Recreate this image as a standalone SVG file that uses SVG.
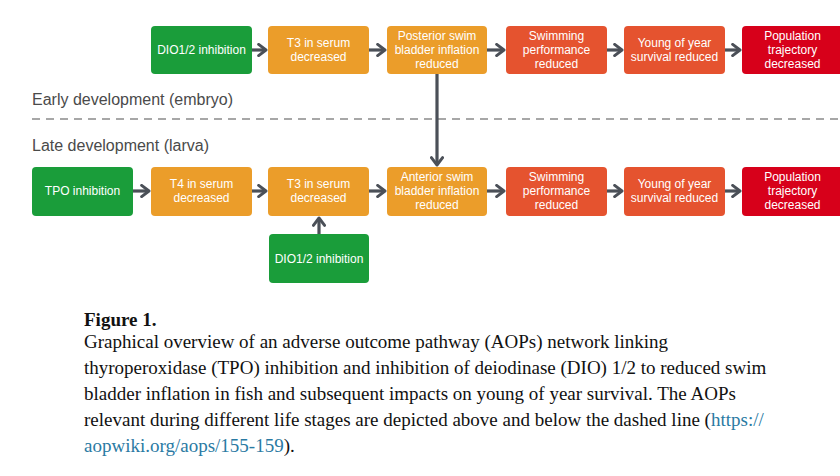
<svg xmlns="http://www.w3.org/2000/svg" width="840" height="476" viewBox="0 0 840 476">
<style>
.box{stroke:none}
.g{fill:#1a9d3a}.o{fill:#eb9d2a}.r{fill:#e5532f}.d{fill:#d7001a}
.t{font-family:"Liberation Sans",Arial,sans-serif;font-size:12px;fill:#fff;text-anchor:middle}
.c{stroke:#4b5058;stroke-width:3.2;fill:none}
.lbl{font-family:"Liberation Sans",Arial,sans-serif;font-size:16px;fill:#4a4a4a}
.cap{font-family:"Liberation Serif","Times New Roman",serif;font-size:19px;fill:#111}
</style>
<defs>
<marker id="ah" viewBox="0 0 10 10" refX="7.5" refY="5" markerWidth="4.6" markerHeight="4.6" orient="auto" markerUnits="strokeWidth">
<path d="M2.5,1.2 L7.5,5 L2.5,8.8" fill="none" stroke="#4b5058" stroke-width="2" stroke-linecap="round" stroke-linejoin="round"/>
</marker>
</defs>
<rect width="840" height="476" fill="#fff"/>
<text class="lbl" x="32" y="105">Early development (embryo)</text>
<line x1="32" y1="119" x2="840" y2="119" stroke="#8a8a8a" stroke-width="1.5" stroke-dasharray="8,6"/>
<text class="lbl" x="32" y="151">Late development (larva)</text>

<g id="connectors">
<line class="c" x1="252" y1="50" x2="266" y2="50" marker-end="url(#ah)"/>
<line class="c" x1="369" y1="50" x2="385" y2="50" marker-end="url(#ah)"/>
<line class="c" x1="487" y1="50" x2="504" y2="50" marker-end="url(#ah)"/>
<line class="c" x1="607" y1="50" x2="622" y2="50" marker-end="url(#ah)"/>
<line class="c" x1="725" y1="50" x2="740" y2="50" marker-end="url(#ah)"/>
<line class="c" x1="437" y1="74" x2="437" y2="165" marker-end="url(#ah)"/>
<line class="c" x1="133" y1="191" x2="149" y2="191" marker-end="url(#ah)"/>
<line class="c" x1="252" y1="191" x2="266" y2="191" marker-end="url(#ah)"/>
<line class="c" x1="369" y1="191" x2="385" y2="191" marker-end="url(#ah)"/>
<line class="c" x1="487" y1="191" x2="504" y2="191" marker-end="url(#ah)"/>
<line class="c" x1="607" y1="191" x2="622" y2="191" marker-end="url(#ah)"/>
<line class="c" x1="725" y1="191" x2="740" y2="191" marker-end="url(#ah)"/>
<line class="c" x1="319" y1="234" x2="319" y2="218" marker-end="url(#ah)"/>
</g>

<g id="dio-top"><rect class="box g" x="151" y="26" width="101" height="48" rx="4"/><text class="t" x="201.5" y="54">DIO1/2 inhibition</text></g>
<g id="t3-top"><rect class="box o" x="268" y="26" width="101" height="48" rx="4"/><text class="t" x="318.5" y="47">T3 in serum</text><text class="t" x="318.5" y="61">decreased</text></g>
<g id="posterior"><rect class="box o" x="387" y="26" width="100" height="48" rx="4"/><text class="t" x="437" y="40">Posterior swim</text><text class="t" x="437" y="54">bladder inflation</text><text class="t" x="437" y="68">reduced</text></g>
<g id="swim-top"><rect class="box r" x="506" y="26" width="101" height="48" rx="4"/><text class="t" x="556.5" y="40">Swimming</text><text class="t" x="556.5" y="54">performance</text><text class="t" x="556.5" y="68">reduced</text></g>
<g id="young-top"><rect class="box r" x="624" y="26" width="101" height="48" rx="4"/><text class="t" x="674.5" y="47">Young of year</text><text class="t" x="674.5" y="61">survival reduced</text></g>
<g id="pop-top"><rect class="box d" x="742" y="26" width="101" height="48" rx="4"/><text class="t" x="792.5" y="40">Population</text><text class="t" x="792.5" y="54">trajectory</text><text class="t" x="792.5" y="68">decreased</text></g>

<g id="tpo"><rect class="box g" x="32" y="167" width="101" height="49" rx="4"/><text class="t" x="82.5" y="195">TPO inhibition</text></g>
<g id="t4"><rect class="box o" x="151" y="167" width="101" height="49" rx="4"/><text class="t" x="201.5" y="188">T4 in serum</text><text class="t" x="201.5" y="202">decreased</text></g>
<g id="t3-bot"><rect class="box o" x="268" y="167" width="101" height="49" rx="4"/><text class="t" x="318.5" y="188">T3 in serum</text><text class="t" x="318.5" y="202">decreased</text></g>
<g id="anterior"><rect class="box o" x="387" y="167" width="100" height="49" rx="4"/><text class="t" x="437" y="181">Anterior swim</text><text class="t" x="437" y="195">bladder inflation</text><text class="t" x="437" y="209">reduced</text></g>
<g id="swim-bot"><rect class="box r" x="506" y="167" width="101" height="49" rx="4"/><text class="t" x="556.5" y="181">Swimming</text><text class="t" x="556.5" y="195">performance</text><text class="t" x="556.5" y="209">reduced</text></g>
<g id="young-bot"><rect class="box r" x="624" y="167" width="101" height="49" rx="4"/><text class="t" x="674.5" y="188">Young of year</text><text class="t" x="674.5" y="202">survival reduced</text></g>
<g id="pop-bot"><rect class="box d" x="742" y="167" width="101" height="49" rx="4"/><text class="t" x="792.5" y="181">Population</text><text class="t" x="792.5" y="195">trajectory</text><text class="t" x="792.5" y="209">decreased</text></g>
<g id="dio-bot"><rect class="box g" x="269" y="234" width="100" height="49" rx="4"/><text class="t" x="319" y="263">DIO1/2 inhibition</text></g>

<text class="cap" x="84" y="326" font-weight="bold">Figure 1.</text>
<text class="cap" x="84" y="348">Graphical overview of an adverse outcome pathway (AOPs) network linking</text>
<text class="cap" x="84" y="374">thyroperoxidase (TPO) inhibition and inhibition of deiodinase (DIO) 1/2 to reduced swim</text>
<text class="cap" x="84" y="400">bladder inflation in fish and subsequent impacts on young of year survival. The AOPs</text>
<text class="cap" x="84" y="426">relevant during different life stages are depicted above and below the dashed line (<tspan fill="#2a7aa3">https://</tspan></text>
<text class="cap" x="84" y="452"><tspan fill="#2a7aa3">aopwiki.org/aops/155-159</tspan>).</text>
</svg>
